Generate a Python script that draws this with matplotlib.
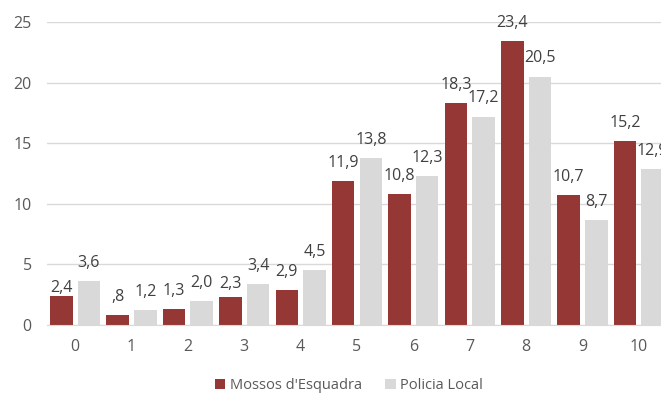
import matplotlib
matplotlib.use("Agg")
import matplotlib.pyplot as plt
import numpy as np

categorias = ["0", "1", "2", "3", "4", "5", "6", "7", "8", "9", "10"]
mossos = [2.4, 0.8, 1.3, 2.3, 2.9, 11.9, 10.8, 18.3, 23.4, 10.7, 15.2]
policia = [3.6, 1.2, 2.0, 3.4, 4.5, 13.8, 12.3, 17.2, 20.5, 8.7, 12.9]
series = ["Mossos d'Esquadra", "Policia Local"]

ROJO = "#953735"
GRIS = "#D9D9D9"
TEXTO = "#595959"

plt.rcParams["font.family"] = ["Open Sans", "DejaVu Sans"]

# etiquetas que en el original están más pegadas a la barra (serie, índice) -> desplazamiento en pt
ajustes = {(0, 0): 6, (0, 3): 9.5}


def etiqueta(v):
    # formato tipo Excel: coma decimal y sin cero inicial
    s = f"{v:.1f}".replace(".", ",")
    if s.startswith("0,"):
        s = s[1:]
    return s


fig = plt.figure(figsize=(6.61, 3.94), dpi=100)
# el eje se sale por la derecha: la última barra queda recortada como en el original
ax = fig.add_axes([47 / 661, 69 / 394, 620 / 661, 303 / 394])

x = np.arange(len(categorias))
ancho = 0.4
off = 0.245
b1 = ax.bar(x - off, mossos, ancho, color=ROJO, label=series[0])
b2 = ax.bar(x + off, policia, ancho, color=GRIS, label=series[1])

for s, (barras, vals) in enumerate(((b1, mossos), (b2, policia))):
    for i, (r, v) in enumerate(zip(barras, vals)):
        dy = ajustes.get((s, i), 13)
        ax.annotate(etiqueta(v), (r.get_x() + r.get_width() / 2, v),
                    xytext=(0, dy), textcoords="offset points",
                    ha="center", va="center", fontsize=11.5, color="#404040",
                    annotation_clip=False)

ax.set_xlim(-0.5, len(categorias) - 0.5)
ax.set_ylim(0, 25)
ax.set_yticks(range(0, 26, 5))
ax.set_xticks(x)
ax.set_xticklabels(categorias)
ax.yaxis.grid(True, color=GRIS, linewidth=1)
ax.set_axisbelow(True)
for lado in ("top", "right", "left"):
    ax.spines[lado].set_visible(False)
ax.spines["bottom"].set_color(GRIS)
ax.tick_params(axis="both", length=0, colors=TEXTO, labelsize=11.5)
ax.tick_params(axis="x", pad=10)
ax.tick_params(axis="y", pad=11)

fig.legend(handles=[b1, b2], labels=series, loc="center", bbox_to_anchor=(0.528, 0.022),
           ncol=2, frameon=False, fontsize=10.5, handlelength=0.7, handleheight=0.7,
           columnspacing=1.6, handletextpad=0.3, labelcolor=TEXTO)

fig.savefig("out.png", dpi=100)
